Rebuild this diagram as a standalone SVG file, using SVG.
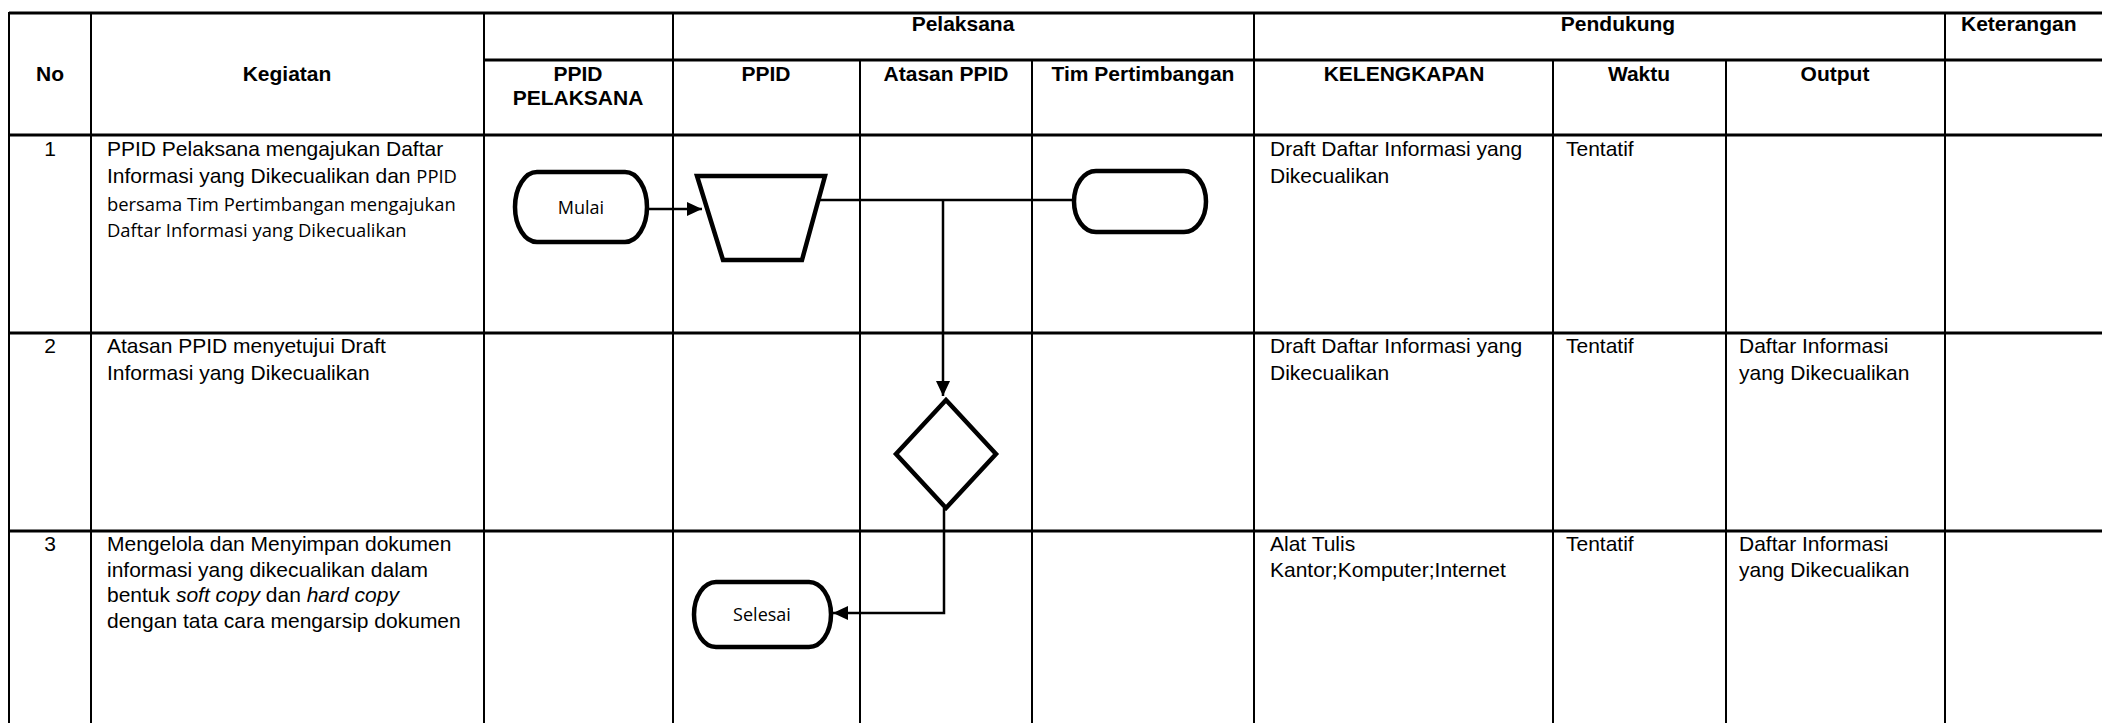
<svg xmlns="http://www.w3.org/2000/svg" width="2102" height="723" viewBox="0 0 2102 723">
<style>
.bg{fill:#fff}
.h{stroke:#000;stroke-width:3;fill:none}
.v{stroke:#000;stroke-width:2;fill:none}
.th{font-family:"Liberation Sans",Arial,sans-serif;font-size:21px;font-weight:bold;fill:#000}
.td{font-family:"Liberation Sans",Arial,sans-serif;font-size:21px;fill:#000}
.cal{font-family:"Open Sans","Noto Sans",sans-serif;font-size:18.4px;fill:#000}
.lbl{font-family:"Open Sans","Noto Sans",sans-serif;font-size:18px;fill:#000}
.shape{fill:#fff;stroke:#000;stroke-width:4.5}
.conn{stroke:#000;stroke-width:2.5;fill:none}
</style>
<defs>
<marker id="arr" markerUnits="userSpaceOnUse" markerWidth="16" markerHeight="16" viewBox="0 0 16 16" refX="15" refY="8" orient="auto">
<path d="M0,1 L15,8 L0,15 Z" fill="#000"/>
</marker>
</defs>
<rect class="bg" x="0" y="0" width="2102" height="723"/>
<g id="table">
<line class="h" x1="9" y1="13" x2="2102" y2="13"/>
<line class="h" x1="484" y1="60" x2="2102" y2="60"/>
<line class="h" x1="9" y1="135" x2="2102" y2="135"/>
<line class="h" x1="9" y1="333" x2="2102" y2="333"/>
<line class="h" x1="9" y1="531" x2="2102" y2="531"/>
<line class="v" x1="9" y1="12" x2="9" y2="723"/>
<line class="v" x1="91" y1="12" x2="91" y2="723"/>
<line class="v" x1="484" y1="12" x2="484" y2="723"/>
<line class="v" x1="673" y1="12" x2="673" y2="723"/>
<line class="v" x1="860" y1="60" x2="860" y2="723"/>
<line class="v" x1="1032" y1="60" x2="1032" y2="723"/>
<line class="v" x1="1254" y1="12" x2="1254" y2="723"/>
<line class="v" x1="1553" y1="60" x2="1553" y2="723"/>
<line class="v" x1="1726" y1="60" x2="1726" y2="723"/>
<line class="v" x1="1945" y1="12" x2="1945" y2="723"/>
<text class="th" x="50" y="81" text-anchor="middle">No</text>
<text class="th" x="287" y="81" text-anchor="middle">Kegiatan</text>
<text class="th" x="578" y="81" text-anchor="middle">PPID</text>
<text class="th" x="578" y="105" text-anchor="middle">PELAKSANA</text>
<text class="th" x="963" y="31" text-anchor="middle">Pelaksana</text>
<text class="th" x="1618" y="31" text-anchor="middle">Pendukung</text>
<text class="th" x="1961" y="31">Keterangan</text>
<text class="th" x="766" y="81" text-anchor="middle">PPID</text>
<text class="th" x="946" y="81" text-anchor="middle">Atasan PPID</text>
<text class="th" x="1143" y="81" text-anchor="middle">Tim Pertimbangan</text>
<text class="th" x="1404" y="81" text-anchor="middle">KELENGKAPAN</text>
<text class="th" x="1639" y="81" text-anchor="middle">Waktu</text>
<text class="th" x="1835" y="81" text-anchor="middle">Output</text>
<text class="td" x="50" y="156" text-anchor="middle">1</text>
<text class="td" x="107" y="156">PPID Pelaksana mengajukan Daftar</text>
<text class="td" x="107" y="183">Informasi yang Dikecualikan dan <tspan class="cal">PPID</tspan></text>
<text class="cal" x="107" y="211">bersama Tim Pertimbangan mengajukan</text>
<text class="cal" x="107" y="237">Daftar Informasi yang Dikecualikan</text>
<text class="td" x="1270" y="156">Draft Daftar Informasi yang</text>
<text class="td" x="1270" y="183">Dikecualikan</text>
<text class="td" x="1566" y="156">Tentatif</text>
<text class="td" x="50" y="353" text-anchor="middle">2</text>
<text class="td" x="107" y="353">Atasan PPID menyetujui Draft</text>
<text class="td" x="107" y="380">Informasi yang Dikecualikan</text>
<text class="td" x="1270" y="353">Draft Daftar Informasi yang</text>
<text class="td" x="1270" y="380">Dikecualikan</text>
<text class="td" x="1566" y="353">Tentatif</text>
<text class="td" x="1739" y="353">Daftar Informasi</text>
<text class="td" x="1739" y="380">yang Dikecualikan</text>
<text class="td" x="50" y="551" text-anchor="middle">3</text>
<text class="td" x="107" y="551">Mengelola dan Menyimpan dokumen</text>
<text class="td" x="107" y="577">informasi yang dikecualikan dalam</text>
<text class="td" x="107" y="602">bentuk <tspan font-style="italic">soft copy</tspan> dan <tspan font-style="italic">hard copy</tspan></text>
<text class="td" x="107" y="628">dengan tata cara mengarsip dokumen</text>
<text class="td" x="1270" y="551">Alat Tulis</text>
<text class="td" x="1270" y="577">Kantor;Komputer;Internet</text>
<text class="td" x="1566" y="551">Tentatif</text>
<text class="td" x="1739" y="551">Daftar Informasi</text>
<text class="td" x="1739" y="577">yang Dikecualikan</text>
</g>
<g id="connectors">
<line class="conn" x1="647" y1="209" x2="702" y2="209" marker-end="url(#arr)"/>
<line class="conn" x1="818" y1="200" x2="1074" y2="200"/>
<line class="conn" x1="943" y1="200" x2="943" y2="396" marker-end="url(#arr)"/>
<polyline class="conn" points="944,508 944,613 833,613" marker-end="url(#arr)"/>
</g>
<g id="node-mulai">
<rect class="shape" x="515" y="172" width="132" height="70" rx="22" ry="35"/>
<text class="lbl" x="581" y="214" text-anchor="middle">Mulai</text>
</g>
<g id="node-trapezoid">
<polygon class="shape" points="697,176 825,176 802,260 723,260"/>
</g>
<g id="node-tim">
<rect class="shape" x="1074" y="171" width="132" height="61" rx="22" ry="30.5"/>
</g>
<g id="node-decision">
<polygon class="shape" points="946,400 996,454 946,508 896,454"/>
</g>
<g id="node-selesai">
<rect class="shape" x="694" y="582" width="137" height="65" rx="22" ry="32.5"/>
<text class="lbl" x="762" y="621" text-anchor="middle">Selesai</text>
</g>
</svg>
